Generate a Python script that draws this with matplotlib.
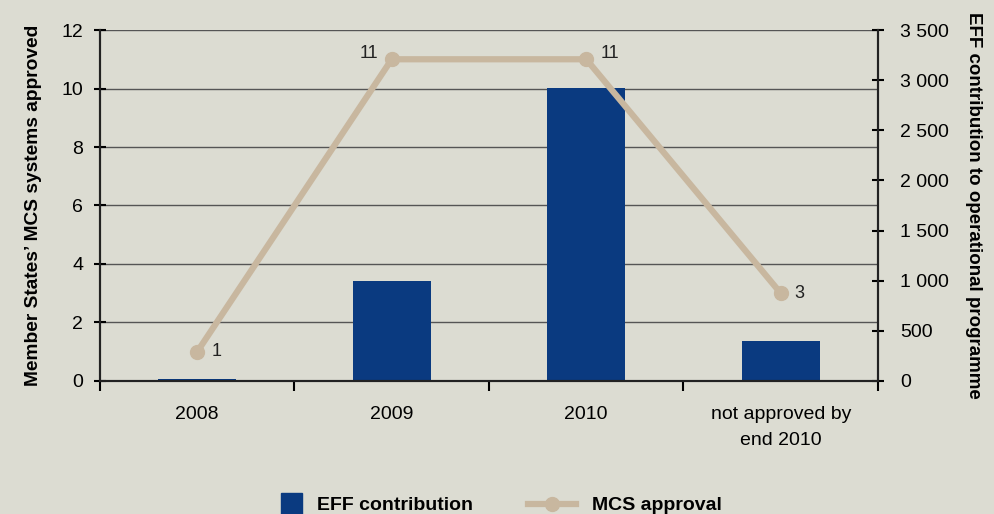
import matplotlib.pyplot as plt
from matplotlib.lines import Line2D
from matplotlib.patches import Patch, Rectangle
from matplotlib.legend_handler import HandlerPatch
from matplotlib.ticker import FuncFormatter

plt.rcParams['font.family'] = ['Liberation Sans', 'DejaVu Sans']

categories = ['2008', '2009', '2010', 'not approved by\nend 2010']
mcs_approval = [1, 11, 11, 3]
eff_contribution = [20, 1000, 2920, 400]

bg = '#dcdcd2'
bar_col = '#0a3a80'
line_col = '#c8b79f'

fig = plt.figure(figsize=(9.95, 5.14), dpi=100, facecolor=bg)
ax = fig.add_axes([0.1005, 0.2588, 0.7819, 0.6828])
ax.set_facecolor(bg)
ax2 = ax.twinx()

x = range(len(categories))
ax2.bar(x, eff_contribution, width=0.4, color=bar_col, zorder=2)
ax2.set_ylim(0, 3500)
ax2.set_yticks(range(0, 3501, 500))
ax2.yaxis.set_major_formatter(FuncFormatter(lambda v, p: f"{int(v):,}".replace(',', ' ')))

# line axis on top, bars + grid underneath
ax.set_zorder(ax2.get_zorder() + 1)
ax.patch.set_visible(False)
ax2.patch.set_visible(True)
ax2.patch.set_facecolor(bg)

ax.plot(x, mcs_approval, color=line_col, lw=4.5, marker='o', ms=10, zorder=3)
ax.set_ylim(0, 12)
ax.set_xlim(-0.5, 3.5)
ax.set_yticks(range(0, 13, 2))

for v in range(2, 13, 2):
    ax2.axhline(v / 12 * 3500, color='#555555', lw=1, zorder=1)

offsets = [(10, 0, 'left'), (-10, 4, 'right'), (10, 4, 'left'), (10, 0, 'left')]
for i, v in enumerate(mcs_approval):
    dx, dy, ha = offsets[i]
    ax.annotate(str(v), (i, v), xytext=(dx, dy), textcoords='offset points',
                ha=ha, va='center', fontsize=13, color='#222222')

ax.set_xticks(list(x))
ax.set_xticklabels(categories, fontsize=14, linespacing=1.7)
ax.tick_params(axis='x', length=0, pad=18)
ax.set_xticks([-0.5, 0.5, 1.5, 2.5, 3.5], minor=True)
ax.tick_params(axis='x', which='minor', length=7, width=1.5, direction='out')

ax.tick_params(axis='y', labelsize=14, direction='inout', length=8, width=1.5, pad=8)
ax2.tick_params(axis='y', labelsize=14, direction='inout', length=8, width=1.5, pad=12)

for a in (ax, ax2):
    a.spines['top'].set_visible(False)
    for s in ('left', 'right', 'bottom'):
        a.spines[s].set_color('#222222')
        a.spines[s].set_linewidth(1.5)

ax.set_ylabel("Member States’ MCS systems approved", fontsize=13.8, fontweight='bold', labelpad=14)
ax2.set_ylabel("EFF contribution to operational programme", fontsize=13.5, fontweight='bold',
               rotation=270, labelpad=24)


def square_handle(legend, orig_handle, xdescent, ydescent, width, height, fontsize):
    s = height * 1.5
    return Rectangle((width - s, (height - s) / 2), s, s)


handles = [Patch(color=bar_col),
           Line2D([0], [0], color=line_col, lw=4.5, marker='o', ms=10)]
fig.legend(handles, ['EFF contribution', 'MCS approval'], loc='lower center',
           bbox_to_anchor=(0.49, -0.035), ncol=2, frameon=False,
           prop={'size': 14, 'weight': 'bold'}, handlelength=2.5, columnspacing=2.8,
           handler_map={Patch: HandlerPatch(patch_func=square_handle)})

fig.savefig('out.png', dpi=100, facecolor=bg)
